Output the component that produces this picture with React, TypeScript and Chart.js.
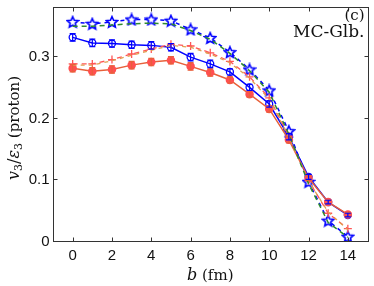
import React, { useEffect, useRef } from "react";
import { Chart, registerables } from "chart.js";

Chart.register(...registerables);

const B = [0, 1, 2, 3, 4, 5, 6, 7, 8, 9, 10, 11, 12, 13, 14];
const X_TICKS = [0, 2, 4, 6, 8, 10, 12, 14];
const Y_TICKS = [0, 0.1, 0.2, 0.3];
const Y_TICK_LABELS = ["0", "0.1", "0.2", "0.3"];

const greenDashed = [0.348, 0.348, 0.35, 0.352, 0.353, 0.352, 0.341, 0.327, 0.304, 0.276, 0.241, 0.173, 0.093, 0.03, 0.006];
const blueStars = [0.355, 0.352, 0.355, 0.359, 0.359, 0.357, 0.343, 0.329, 0.306, 0.278, 0.244, 0.178, 0.096, 0.033, 0.007];
const redCross = [0.287, 0.287, 0.294, 0.303, 0.311, 0.319, 0.316, 0.305, 0.291, 0.266, 0.232, 0.17, 0.098, 0.045, 0.02];
const orangeDash = [0.285, 0.285, 0.292, 0.301, 0.309, 0.317, 0.314, 0.303, 0.289, 0.264, 0.23, 0.168, 0.097, 0.047, 0.018];
const blueCircles = [0.33, 0.321, 0.32, 0.318, 0.317, 0.314, 0.298, 0.287, 0.274, 0.249, 0.222, 0.169, 0.104, 0.063, 0.042];
const blueCircleErr = [0.006, 0.006, 0.006, 0.006, 0.006, 0.006, 0.006, 0.006, 0.005, 0.005, 0.005, 0.005, 0.004, 0.003, 0.003];
const redCircles = [0.28, 0.275, 0.278, 0.285, 0.29, 0.293, 0.283, 0.273, 0.261, 0.238, 0.214, 0.164, 0.102, 0.063, 0.043];
const redCircleErr = [0.006, 0.006, 0.006, 0.006, 0.006, 0.006, 0.006, 0.006, 0.005, 0.005, 0.005, 0.005, 0.004, 0.003, 0.003];

const pts = (ys: number[]) => B.map((b, i) => ({ x: b, y: ys[i] }));

function makeStar(color: string): HTMLCanvasElement {
  const c = document.createElement("canvas");
  c.width = 14;
  c.height = 14;
  const g = c.getContext("2d") as CanvasRenderingContext2D;
  const cx = 7;
  const cy = 7.5;
  const ro = 5.8;
  const ri = 2.7;
  g.beginPath();
  for (let i = 0; i < 10; i++) {
    const r = i % 2 === 0 ? ro : ri;
    const a = -Math.PI / 2 + (i * Math.PI) / 5;
    const px = cx + r * Math.cos(a);
    const py = cy + r * Math.sin(a);
    if (i === 0) g.moveTo(px, py);
    else g.lineTo(px, py);
  }
  g.closePath();
  g.fillStyle = "#ffffff";
  g.fill();
  g.strokeStyle = color;
  g.lineWidth = 1.6;
  g.lineJoin = "miter";
  g.stroke();
  return c;
}

const framePlugin = {
  id: "frame",
  afterDatasetsDraw(chart: any) {
    const { ctx, chartArea, scales } = chart;
    const xs = scales.x;
    const ys = scales.y;
    ctx.save();
    chart.data.datasets.forEach((ds: any, di: number) => {
      if (!ds.errors) return;
      const meta = chart.getDatasetMeta(di);
      ctx.strokeStyle = ds.borderColor;
      ctx.lineWidth = 1.2;
      meta.data.forEach((p: any, i: number) => {
        const v = ds.data[i].y;
        const e = ds.errors[i];
        const y1 = ys.getPixelForValue(v - e);
        const y2 = ys.getPixelForValue(v + e);
        ctx.beginPath();
        ctx.moveTo(p.x, y1);
        ctx.lineTo(p.x, y2);
        ctx.moveTo(p.x - 3, y1);
        ctx.lineTo(p.x + 3, y1);
        ctx.moveTo(p.x - 3, y2);
        ctx.lineTo(p.x + 3, y2);
        ctx.stroke();
      });
    });
    ctx.strokeStyle = "#333";
    ctx.lineWidth = 1;
    ctx.setLineDash([]);
    const l = Math.round(chartArea.left) + 0.5;
    const r = Math.round(chartArea.right) + 0.5;
    const t = Math.round(chartArea.top) + 0.5;
    const bt = Math.round(chartArea.bottom) + 0.5;
    ctx.strokeRect(l, t, r - l, bt - t);
    ctx.beginPath();
    X_TICKS.forEach((v) => {
      const px = Math.round(xs.getPixelForValue(v)) + 0.5;
      ctx.moveTo(px, bt);
      ctx.lineTo(px, bt - 4);
      ctx.moveTo(px, t);
      ctx.lineTo(px, t + 4);
    });
    Y_TICKS.forEach((v) => {
      const py = Math.round(ys.getPixelForValue(v)) + 0.5;
      ctx.moveTo(l, py);
      ctx.lineTo(l + 4, py);
      ctx.moveTo(r, py);
      ctx.lineTo(r - 4, py);
    });
    ctx.stroke();
    ctx.fillStyle = "#111";
    ctx.font = "15px 'Liberation Sans', Arial, sans-serif";
    ctx.textAlign = "center";
    ctx.textBaseline = "middle";
    X_TICKS.forEach((v) => {
      ctx.fillText(String(v), xs.getPixelForValue(v), bt + 14);
    });
    ctx.textAlign = "right";
    Y_TICKS.forEach((v, i) => {
      ctx.fillText(Y_TICK_LABELS[i], l - 4, ys.getPixelForValue(v) + 1);
    });
    ctx.textAlign = "left";
    ctx.textBaseline = "alphabetic";
    const serif = "'DejaVu Serif', 'Liberation Serif', serif";
    const xt1 = "b";
    const xt2 = " (fm)";
    ctx.font = `italic 16px ${serif}`;
    const w1 = ctx.measureText(xt1).width;
    ctx.font = `15px ${serif}`;
    const w2 = ctx.measureText(xt2).width;
    const cx = (chartArea.left + chartArea.right) / 2;
    const sx = cx - (w1 + w2) / 2;
    ctx.font = `italic 16px ${serif}`;
    ctx.fillText(xt1, sx, 280);
    ctx.font = `15px ${serif}`;
    ctx.fillText(xt2, sx + w1, 280);
    ctx.save();
    ctx.translate(19, 128);
    ctx.rotate(-Math.PI / 2);
    const parts: [string, string, number][] = [
      ["v", `italic 16px ${serif}`, 0],
      ["3", `11px ${serif}`, 3],
      ["/", `16px ${serif}`, 0],
      ["ε", `italic 16px ${serif}`, 0],
      ["3", `11px ${serif}`, 3],
      [" (proton)", `15px ${serif}`, 0],
    ];
    let tw = 0;
    parts.forEach(([s, f]) => {
      ctx.font = f;
      tw += ctx.measureText(s).width;
    });
    let ox = -tw / 2;
    parts.forEach(([s, f, dy]) => {
      ctx.font = f;
      ctx.fillText(s, ox, dy);
      ox += ctx.measureText(s).width;
    });
    ctx.restore();
    ctx.textAlign = "right";
    ctx.font = `15px ${serif}`;
    ctx.fillText("(c)", chartArea.right - 3, 20);
    ctx.font = `17px ${serif}`;
    ctx.fillText("MC-Glb.", chartArea.right - 3, 37);
    ctx.restore();
  },
};

export default function App() {
  const ref = useRef<HTMLCanvasElement | null>(null);
  useEffect(() => {
    document.body.style.margin = "0";
    const star = makeStar("#0000ff");
    const chart = new Chart(ref.current as HTMLCanvasElement, {
      type: "scatter",
      data: {
        datasets: [
          {
            data: pts(greenDashed),
            showLine: true,
            borderColor: "#2e8b2e",
            borderWidth: 1.5,
            borderDash: [5, 4],
            pointRadius: 0,
          },
          {
            data: pts(orangeDash),
            showLine: true,
            borderColor: "#e0a050",
            borderWidth: 1.3,
            borderDash: [4, 4],
            pointRadius: 0,
          },
          {
            data: pts(redCross),
            showLine: true,
            borderColor: "#ff5555",
            borderWidth: 1.3,
            borderDash: [5, 4],
            pointStyle: "cross",
            pointRadius: 4,
            pointBorderWidth: 1.3,
            pointBorderColor: "#ff5555",
          },
          {
            data: pts(redCircles),
            showLine: true,
            borderColor: "#e8603a",
            borderWidth: 1.5,
            pointStyle: "circle",
            pointRadius: 3.5,
            pointBackgroundColor: "#ff5050",
            pointBorderColor: "#ff5050",
            errors: redCircleErr,
          } as any,
          {
            data: pts(blueCircles),
            showLine: true,
            borderColor: "#0000ff",
            borderWidth: 1.5,
            pointStyle: "circle",
            pointRadius: 3.5,
            pointBackgroundColor: "rgba(0,0,0,0)",
            pointBorderColor: "#0000ff",
            pointBorderWidth: 1.3,
            errors: blueCircleErr,
          } as any,
          {
            data: pts(blueStars),
            showLine: true,
            borderColor: "#0000ff",
            borderWidth: 1.5,
            borderDash: [4, 4],
            pointStyle: star,
            pointRadius: 5,
          } as any,
        ],
      },
      options: {
        animation: false,
        responsive: false,
        devicePixelRatio: 1,
        layout: { padding: { left: 53, right: 5, top: 3, bottom: 45 } },
        plugins: { legend: { display: false }, tooltip: { enabled: false } },
        scales: {
          x: { type: "linear", min: -1, max: 15, display: false },
          y: { type: "linear", min: 0, max: 0.38, display: false },
        },
      },
      plugins: [framePlugin],
    });
    return () => chart.destroy();
  }, []);
  return <canvas ref={ref} width={374} height={286} style={{ display: "block" }} />;
}
